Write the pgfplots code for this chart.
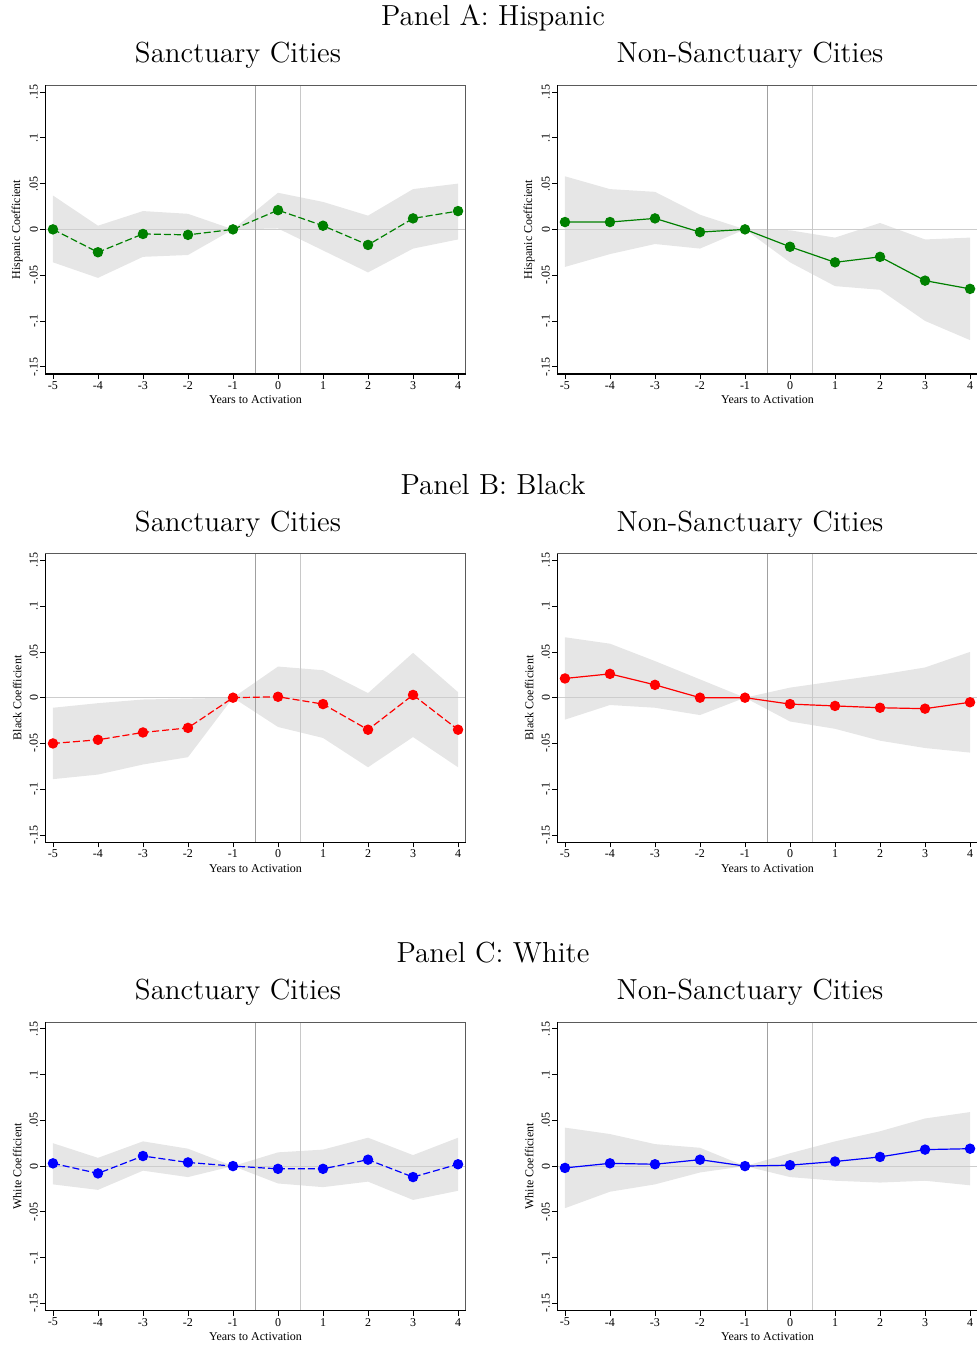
\documentclass[border=0pt]{standalone}
\usepackage{fontspec}
\newfontfamily\tms{Liberation Serif}
\usepackage{pgfplots}
\pgfplotsset{compat=1.18}
\usepackage{pgfplotstable}
\usepgfplotslibrary{fillbetween}

\definecolor{shade}{RGB}{230,230,230}
\definecolor{vlA}{RGB}{160,160,160}
\definecolor{vlB}{RGB}{200,200,200}
\definecolor{zerol}{RGB}{205,205,205}
\definecolor{mygreen}{RGB}{0,128,0}
\definecolor{myred}{RGB}{255,0,0}
\definecolor{myblue}{RGB}{0,0,255}
\definecolor{frameg}{RGB}{90,90,90}

\pgfplotstableread{
x y lo hi
-5 0.000 -0.036 0.037
-4 -0.025 -0.053 0.004
-3 -0.005 -0.030 0.020
-2 -0.006 -0.028 0.017
-1 0 0 0
0 0.021 0.001 0.040
1 0.004 -0.023 0.030
2 -0.017 -0.047 0.015
3 0.012 -0.021 0.044
4 0.020 -0.011 0.050
}\tAL
\pgfplotstableread{
x y lo hi
-5 0.008 -0.041 0.058
-4 0.008 -0.027 0.044
-3 0.012 -0.016 0.041
-2 -0.003 -0.021 0.016
-1 0 0 0
0 -0.019 -0.036 -0.001
1 -0.036 -0.062 -0.009
2 -0.030 -0.066 0.007
3 -0.056 -0.100 -0.011
4 -0.065 -0.121 -0.009
}\tAR
\pgfplotstableread{
x y lo hi
-5 -0.050 -0.089 -0.011
-4 -0.046 -0.084 -0.006
-3 -0.038 -0.073 -0.002
-2 -0.033 -0.065 -0.001
-1 0 0 0
0 0.001 -0.032 0.034
1 -0.007 -0.044 0.030
2 -0.035 -0.076 0.005
3 0.003 -0.043 0.049
4 -0.035 -0.076 0.006
}\tBL
\pgfplotstableread{
x y lo hi
-5 0.021 -0.024 0.066
-4 0.026 -0.008 0.059
-3 0.014 -0.011 0.040
-2 0.000 -0.019 0.020
-1 0 0 0
0 -0.007 -0.026 0.011
1 -0.009 -0.034 0.018
2 -0.011 -0.047 0.025
3 -0.012 -0.055 0.033
4 -0.005 -0.060 0.050
}\tBR
\pgfplotstableread{
x y lo hi
-5 0.003 -0.020 0.025
-4 -0.008 -0.026 0.009
-3 0.011 -0.005 0.027
-2 0.004 -0.012 0.019
-1 0 0 0
0 -0.003 -0.019 0.015
1 -0.003 -0.023 0.018
2 0.007 -0.017 0.031
3 -0.012 -0.037 0.012
4 0.002 -0.027 0.031
}\tCL
\pgfplotstableread{
x y lo hi
-5 -0.002 -0.046 0.042
-4 0.003 -0.028 0.035
-3 0.002 -0.020 0.024
-2 0.007 -0.007 0.020
-1 0 0 0
0 0.001 -0.012 0.014
1 0.005 -0.016 0.027
2 0.010 -0.018 0.038
3 0.018 -0.016 0.052
4 0.019 -0.021 0.059
}\tCR

\pgfplotsset{panel/.style={
  scale only axis, width=210.2pt, height=144.4pt,
  xmin=-5.17, xmax=4.17, ymin=-0.158, ymax=0.1575,
  axis line style={draw=none},
  xtick={-5,-4,-3,-2,-1,0,1,2,3,4},
  xticklabels={-5,-4,-3,-2,-1,0,1,2,3,4},
  ytick={-0.15,-0.1,-0.05,0,0.05,0.1,0.15},
  yticklabels={-.15,-.1,-.05,0,.05,.1,.15},
  tick align=outside, major tick length=2.5pt,
  xtick pos=bottom, ytick pos=left,
  tick style={black, line width=0.4pt},
  tick label style={font=\tms\fontsize{6}{7}\selectfont},
  yticklabel style={rotate=90, anchor=south, inner sep=1pt},
  xticklabel style={anchor=north, inner sep=1pt},
  xlabel={Years to Activation},
  xlabel style={at={(axis description cs:0.5,-0.09)}, anchor=center, font=\tms\fontsize{6}{7}\selectfont},
  ylabel style={at={(axis description cs:-0.067,0.5)}, anchor=center, font=\tms\fontsize{6}{7}\selectfont},
  clip=false,
}}

\newcommand{\panel}[6]{%
\begin{axis}[panel, at={(#5,#6)}, anchor=south west, ylabel={#4}]
\addplot[name path=hi, draw=none, forget plot] table[x=x,y=hi]{#1};
\addplot[name path=lo, draw=none, forget plot] table[x=x,y=lo]{#1};
\addplot[fill=shade, draw=none] fill between[of=hi and lo];
\addplot[zerol, line width=0.5pt] coordinates {(-5.17,0) (4.17,0)};
\addplot[vlA, line width=0.5pt] coordinates {(-0.5,-0.158) (-0.5,0.1575)};
\addplot[vlB, line width=0.5pt] coordinates {(0.5,-0.158) (0.5,0.1575)};
\addplot[#2, line width=0.6pt, #3, mark=*, mark size=2.3pt, mark options={solid,fill=#2,draw=#2}] table[x=x,y=y]{#1};
\draw[frameg, line width=0.4pt] (rel axis cs:0,1) -- (rel axis cs:1,1) -- (rel axis cs:1,0);
\draw[black, line width=0.7pt] (rel axis cs:0,1) -- (rel axis cs:0,0) -- (rel axis cs:1,0);
\end{axis}}

\begin{document}
\begin{tikzpicture}
\tikzset{ttl/.style={font=\fontsize{14.5}{17}\rmfamily\selectfont, anchor=base, inner sep=0pt}}
% Panel A
\node[ttl] at (246.5pt,-12.5pt) {Panel A: Hispanic};
\node[ttl] at (119pt,-31pt) {Sanctuary Cities};
\node[ttl] at (375pt,-31pt) {Non-Sanctuary Cities};
\panel{\tAL}{mygreen}{dashed, dash pattern=on 3.5pt off 1.5pt}{Hispanic Coefficient}{22.65pt}{-187pt}
\panel{\tAR}{mygreen}{solid}{Hispanic Coefficient}{278.65pt}{-187pt}
% Panel B
\node[ttl] at (246.5pt,-247pt) {Panel B: Black};
\node[ttl] at (119pt,-265.5pt) {Sanctuary Cities};
\node[ttl] at (375pt,-265.5pt) {Non-Sanctuary Cities};
\panel{\tBL}{myred}{dashed, dash pattern=on 3.5pt off 1.5pt}{Black Coefficient}{22.65pt}{-421.15pt}
\panel{\tBR}{myred}{solid}{Black Coefficient}{278.65pt}{-421.15pt}
% Panel C
\node[ttl] at (246.5pt,-481pt) {Panel C: White};
\node[ttl] at (119pt,-499.5pt) {Sanctuary Cities};
\node[ttl] at (375pt,-499.5pt) {Non-Sanctuary Cities};
\panel{\tCL}{myblue}{dashed, dash pattern=on 3.5pt off 1.5pt}{White Coefficient}{22.65pt}{-655.35pt}
\panel{\tCR}{myblue}{solid}{White Coefficient}{278.65pt}{-655.35pt}
\pgfresetboundingbox
\useasboundingbox (0,0) rectangle (488pt,-672.5pt);
\end{tikzpicture}
\end{document}
